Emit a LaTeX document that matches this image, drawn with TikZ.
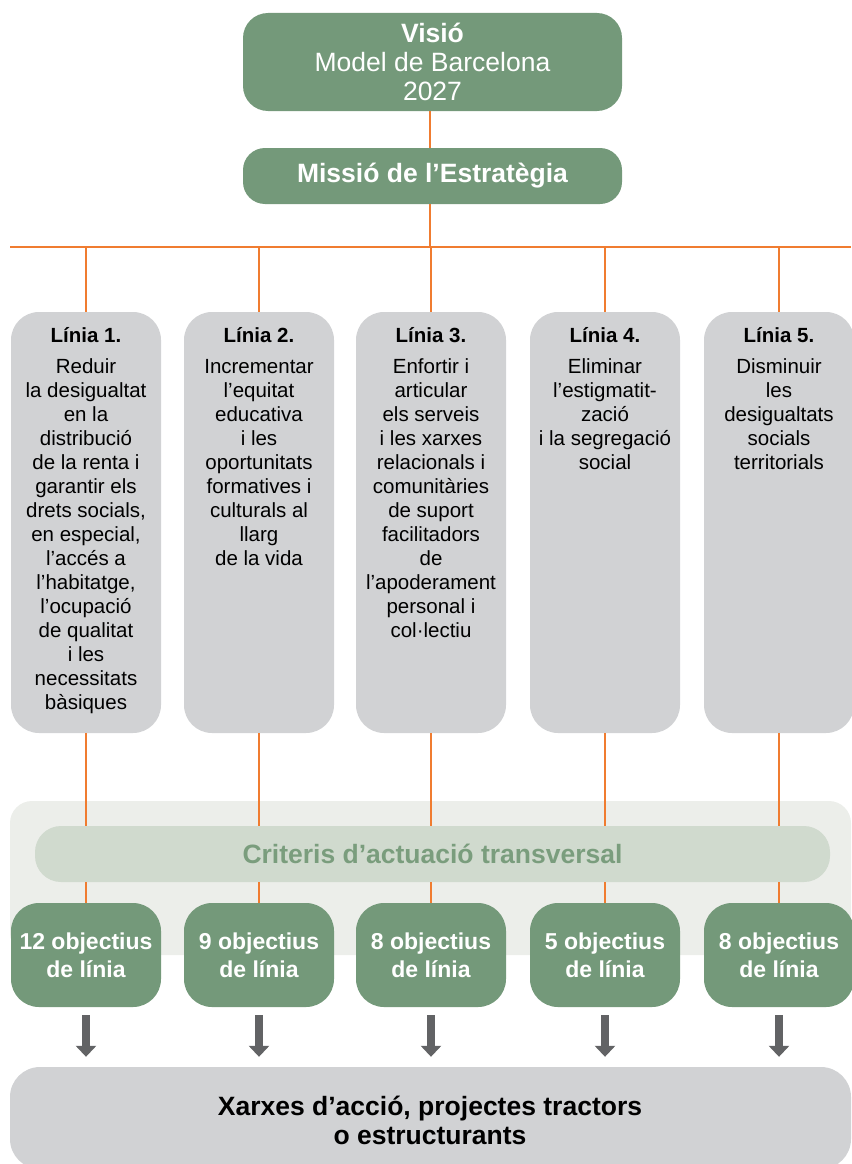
\documentclass[tikz,border=0pt]{standalone}
\usepackage{fontspec}
\setmainfont{Liberation Sans}
\usetikzlibrary{arrows.meta}
\definecolor{sage}{RGB}{116,153,122}
\definecolor{orng}{RGB}{240,124,48}
\definecolor{boxgray}{RGB}{209,210,212}
\definecolor{bandbg}{RGB}{236,238,234}
\definecolor{critbg}{RGB}{208,218,206}
\definecolor{crittxt}{RGB}{122,157,125}
\definecolor{arrowgray}{RGB}{98,99,101}
\tikzset{
  greenbox/.style={fill=sage, draw=none, text=white, align=center, inner sep=0pt},
  linebox/.style={fill=boxgray, draw=none, rounded corners=28pt, minimum width=150pt, minimum height=421pt, inner sep=0pt},
  objbox/.style={greenbox, rounded corners=28pt, minimum width=150pt, minimum height=104pt,
     font=\fontsize{23}{28}\selectfont\bfseries},
  linetext/.style={anchor=north, align=center, inner sep=0pt, font=\fontsize{20.5}{24}\selectfont},
  conn/.style={draw=orng, line width=1.8pt},
  bigarrow/.style={draw=arrowgray, line width=8pt, -{Triangle[length=11pt,width=20pt]}, shorten <=8pt, shorten >=10pt},
}
\begin{document}
\begin{tikzpicture}[x=1pt,y=-1pt]
\useasboundingbox (0,0) rectangle (851,1164);
% background band
\node[fill=bandbg, rounded corners=22pt, minimum width=841pt, minimum height=154pt, inner sep=0pt] (band) at (430.5,878) {};
% top boxes
\node[greenbox, rounded corners=25pt, minimum width=379pt, minimum height=98pt,
      font=\fontsize{26.5}{29}\selectfont] (vis) at (432.5,62) {\textbf{Visió}\\Model de Barcelona\\2027};
\node[greenbox, rounded corners=22pt, minimum width=379pt, minimum height=56pt,
      font=\fontsize{26.5}{29}\selectfont\bfseries] (mis) at (432.5,176) {Missió de l’Estratègia};
% horizontal distribution line
\coordinate (hub) at (430,247);
\coordinate (hl) at (10,247);
\coordinate (hr) at (851,247);
\draw[conn] (vis.south -| hub) -- (mis.north -| hub);
\draw[conn] (mis.south -| hub) -- (hub);
\draw[conn] (hl) -- (hr);
% line boxes
\foreach \i/\cx in {1/86,2/259,3/431,4/605,5/779}{
  \node[linebox] (lin\i) at (\cx,522.5) {};
  \node[objbox] (obj\i) at (\cx,955) {};
}
% criteria band
\node[fill=critbg, rounded corners=26pt, minimum width=795pt, minimum height=56pt, inner sep=0pt,
      text=crittxt, font=\fontsize{26.5}{29}\selectfont\bfseries] (crit) at (432.5,854) {Criteris d’actuació transversal};
% texts of line boxes
\node[linetext] (t1) at (86,327) {\textbf{Línia 1.}\\[7pt]Reduir\\la desigualtat\\en la\\distribució\\de la renta i\\garantir els\\drets socials,\\en especial,\\l’accés a\\l’habitatge,\\l’ocupació\\de qualitat\\i les\\necessitats\\bàsiques};
\node[linetext] (t2) at (259,327) {\textbf{Línia 2.}\\[7pt]Incrementar\\l’equitat\\educativa\\i les\\oportunitats\\formatives i\\culturals al\\llarg\\de la vida};
\node[linetext] (t3) at (431,327) {\textbf{Línia 3.}\\[7pt]Enfortir i\\articular\\els serveis\\i les xarxes\\relacionals i\\comunitàries\\de suport\\facilitadors\\de\\l’apoderament\\personal i\\col·lectiu};
\node[linetext] (t4) at (605,327) {\textbf{Línia 4.}\\[7pt]Eliminar\\l’estigmatit-\\zació\\i la segregació\\social};
\node[linetext] (t5) at (779,327) {\textbf{Línia 5.}\\[7pt]Disminuir\\les\\desigualtats\\socials\\territorials};
% objective texts
\node[objbox, fill=none, minimum width=0pt, minimum height=0pt] (o1) at (obj1) {12 objectius\\de línia};
\node[objbox, fill=none, minimum width=0pt, minimum height=0pt] (o2) at (obj2) {9 objectius\\de línia};
\node[objbox, fill=none, minimum width=0pt, minimum height=0pt] (o3) at (obj3) {8 objectius\\de línia};
\node[objbox, fill=none, minimum width=0pt, minimum height=0pt] (o4) at (obj4) {5 objectius\\de línia};
\node[objbox, fill=none, minimum width=0pt, minimum height=0pt] (o5) at (obj5) {8 objectius\\de línia};
% bottom box
\node[fill=boxgray, rounded corners=30pt, minimum width=841pt, minimum height=102pt, inner sep=0pt] (xar) at (430.5,1118) {};
\node[align=center, inner sep=0pt, font=\fontsize{26.5}{29}\selectfont\bfseries] (xt) at (430,1120) {Xarxes d’acció, projectes tractors\\o estructurants};
% connectors
\foreach \i in {1,...,5}{
  \draw[conn] (lin\i.north |- hub) -- (lin\i.north);
  \draw[conn] (lin\i.south) -- (lin\i.south |- crit.north);
  \draw[conn] (obj\i.north |- crit.south) -- (obj\i.north);
  \draw[bigarrow] (obj\i.south) -- (obj\i.south |- xar.north);
}
\end{tikzpicture}
\end{document}
